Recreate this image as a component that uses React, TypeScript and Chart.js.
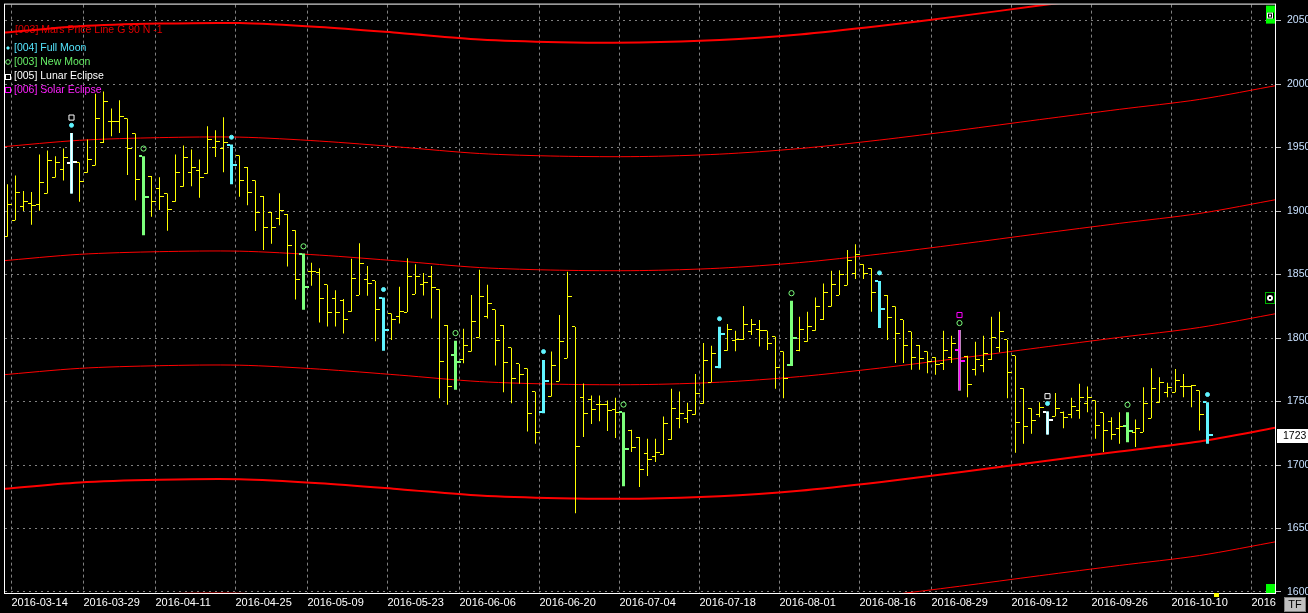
import { useEffect, useRef } from 'react';
import { Chart, registerables } from 'chart.js';

Chart.register(...registerables);

// ---------------- data ----------------
const X_TICK_VALUES = [0.5, 9.5, 18.5, 28.5, 37.5, 47.5, 56.5, 66.5, 76.5, 86.5, 96.5, 106.5, 115.5, 125.5, 135.5, 145.5, 155.5];
const X_TICK_LABELS = ['2016-03-14', '2016-03-29', '2016-04-11', '2016-04-25', '2016-05-09', '2016-05-23', '2016-06-06', '2016-06-20', '2016-07-04', '2016-07-18', '2016-08-01', '2016-08-16', '2016-08-29', '2016-09-12', '2016-09-26', '2016-10-10', '2016'];

const OPEN = [
  1879.8, 1892.7, 1903.4, 1906.0, 1905.3, 1913.9, 1926.5, 1932.7, 1937.9, 1938.2,
  1930.1, 1935.9, 1953.6, 1970.7, 1970.7, 1972.8, 1961.0, 1943.2, 1927.5, 1917.5,
  1913.9, 1907.3, 1919.1, 1930.6, 1932.0, 1929.3, 1950.3, 1948.9, 1951.8, 1943.7,
  1934.6, 1924.1, 1911.8, 1899.2, 1894.0, 1897.6, 1884.8, 1866.5, 1852.6, 1851.3,
  1841.9, 1830.9, 1829.3, 1820.7, 1833.8, 1846.4, 1845.0, 1831.9, 1819.3, 1816.8,
  1820.4, 1834.6, 1841.9, 1848.4, 1838.5, 1810.2, 1786.7, 1783.2, 1789.3, 1800.5,
  1816.8, 1822.2, 1810.2, 1792.4, 1779.6, 1775.9, 1757.6, 1741.6, 1753.9, 1765.9,
  1784.0, 1808.7, 1753.4, 1751.3, 1747.6, 1747.6, 1743.5, 1741.6, 1727.2, 1722.0,
  1708.9, 1706.8, 1708.1, 1719.9, 1736.4, 1736.4, 1739.6, 1748.2, 1765.2, 1776.9,
  1790.0, 1797.9, 1798.5, 1805.0, 1807.1, 1805.8, 1801.0, 1789.3, 1778.8, 1790.0,
  1797.1, 1805.8, 1814.2, 1824.8, 1833.8, 1841.6, 1851.1, 1858.1, 1855.0, 1845.0,
  1833.8, 1824.8, 1814.2, 1805.0, 1794.5, 1789.3, 1784.8, 1780.1, 1784.3, 1790.8,
  1785.3, 1774.9, 1778.3, 1782.7, 1792.2, 1798.5, 1786.1, 1760.4, 1744.7, 1739.6,
  1742.1, 1738.4, 1741.1, 1739.6, 1742.9, 1748.2, 1750.8, 1741.1, 1734.3, 1729.0,
  1730.4, 1725.9, 1725.9, 1736.9, 1749.0, 1756.8, 1757.3, 1761.8, 1761.8, 1758.6,
  1749.4,
];
const HIGH = [
  1921.0, 1928.0, 1915.7, 1914.9, 1944.5, 1947.7, 1943.2, 1949.2, 1961.5, 1938.2,
  1956.3, 1992.4, 1994.2, 1980.7, 1987.2, 1972.8, 1961.0, 1943.2, 1927.5, 1926.7,
  1913.9, 1944.5, 1951.6, 1948.5, 1940.6, 1966.8, 1963.6, 1973.8, 1952.4, 1943.7,
  1934.6, 1924.1, 1911.8, 1899.2, 1914.1, 1897.6, 1884.8, 1866.5, 1859.2, 1855.0,
  1841.9, 1837.7, 1830.7, 1862.5, 1874.6, 1856.8, 1845.0, 1831.9, 1819.3, 1840.3,
  1862.9, 1858.1, 1851.3, 1856.8, 1838.5, 1810.2, 1797.9, 1807.3, 1833.8, 1853.7,
  1841.9, 1822.2, 1810.2, 1792.4, 1779.6, 1775.9, 1757.6, 1782.7, 1789.3, 1818.1,
  1852.1, 1808.7, 1764.1, 1754.7, 1754.7, 1750.8, 1752.9, 1741.6, 1727.8, 1722.0,
  1720.7, 1720.7, 1738.2, 1760.0, 1757.8, 1749.0, 1771.7, 1796.1, 1794.0, 1808.9,
  1811.0, 1805.8, 1825.2, 1814.9, 1814.2, 1805.8, 1801.0, 1789.3, 1829.3, 1816.8,
  1820.7, 1831.9, 1842.9, 1852.9, 1853.4, 1869.4, 1873.8, 1858.1, 1855.0, 1845.0,
  1833.8, 1824.8, 1814.2, 1805.0, 1794.5, 1789.3, 1784.8, 1805.8, 1801.8, 1806.3,
  1786.1, 1797.1, 1801.8, 1816.8, 1820.7, 1798.5, 1786.1, 1760.4, 1744.7, 1749.4,
  1742.1, 1756.8, 1742.1, 1752.9, 1763.9, 1761.8, 1750.8, 1741.1, 1737.7, 1741.6,
  1741.6, 1735.9, 1761.2, 1776.1, 1769.1, 1764.7, 1775.7, 1771.7, 1763.1, 1758.6,
  1749.4,
];
const LOW = [
  1879.8, 1892.7, 1900.0, 1889.2, 1900.2, 1913.9, 1926.5, 1924.1, 1913.9, 1907.3,
  1930.1, 1935.9, 1953.6, 1958.9, 1961.5, 1928.3, 1908.4, 1880.9, 1895.5, 1900.8,
  1884.5, 1907.3, 1919.1, 1919.6, 1910.4, 1929.3, 1942.6, 1930.6, 1921.0, 1911.2,
  1904.5, 1884.3, 1869.4, 1874.3, 1888.8, 1856.3, 1830.3, 1822.2, 1841.1, 1812.3,
  1809.1, 1809.1, 1803.6, 1820.7, 1833.8, 1833.2, 1797.4, 1790.0, 1798.5, 1811.5,
  1820.4, 1834.6, 1833.5, 1815.4, 1752.6, 1747.4, 1759.2, 1780.1, 1789.3, 1800.5,
  1815.4, 1778.3, 1757.3, 1748.7, 1763.9, 1726.4, 1716.8, 1740.8, 1753.9, 1765.9,
  1784.0, 1662.0, 1722.0, 1732.2, 1734.5, 1726.7, 1721.2, 1683.2, 1710.2, 1682.7,
  1691.3, 1702.3, 1708.1, 1719.9, 1729.0, 1733.0, 1739.6, 1748.2, 1765.2, 1776.1,
  1790.0, 1789.5, 1798.5, 1802.4, 1793.4, 1790.6, 1760.0, 1752.6, 1778.0, 1789.5,
  1797.1, 1805.8, 1814.2, 1824.8, 1833.8, 1841.6, 1846.4, 1846.4, 1820.7, 1807.9,
  1798.5, 1780.4, 1780.4, 1775.1, 1775.1, 1772.2, 1771.0, 1774.9, 1780.4, 1758.6,
  1753.4, 1770.4, 1773.0, 1782.7, 1788.7, 1752.6, 1709.7, 1716.8, 1724.6, 1737.7,
  1724.1, 1738.4, 1729.0, 1736.9, 1736.4, 1741.6, 1720.7, 1710.2, 1719.9, 1716.8,
  1718.0, 1714.1, 1725.9, 1736.9, 1749.0, 1753.4, 1757.3, 1753.4, 1745.5, 1727.2,
  1716.8,
];
const CLOSE = [
  1905.3, 1914.4, 1907.6, 1904.7, 1922.5, 1939.8, 1938.2, 1942.4, 1939.0, 1923.3,
  1940.8, 1972.8, 1986.6, 1970.7, 1974.4, 1949.2, 1924.6, 1910.8, 1907.3, 1911.8,
  1901.3, 1930.4, 1941.9, 1934.6, 1926.7, 1956.3, 1954.4, 1953.6, 1935.9, 1924.1,
  1914.9, 1899.0, 1887.2, 1887.2, 1900.5, 1873.1, 1846.4, 1840.1, 1852.6, 1831.4,
  1820.4, 1819.9, 1814.9, 1847.1, 1858.9, 1843.2, 1822.2, 1806.5, 1814.2, 1821.2,
  1848.2, 1848.2, 1843.7, 1839.8, 1781.2, 1761.8, 1781.2, 1794.5, 1812.8, 1833.0,
  1827.5, 1797.9, 1780.9, 1767.8, 1771.0, 1740.3, 1725.4, 1766.3, 1778.0, 1796.9,
  1832.7, 1714.9, 1740.3, 1743.5, 1747.6, 1742.9, 1741.6, 1712.8, 1714.1, 1696.6,
  1704.4, 1710.2, 1732.5, 1744.3, 1740.3, 1742.9, 1756.0, 1782.2, 1787.5, 1803.2,
  1807.1, 1798.5, 1811.0, 1811.0, 1805.8, 1795.8, 1776.9, 1767.8, 1800.0, 1806.5,
  1809.1, 1824.6, 1835.6, 1842.4, 1850.3, 1860.7, 1865.4, 1850.8, 1835.8, 1822.5,
  1816.2, 1803.2, 1794.5, 1784.8, 1783.5, 1781.6, 1778.8, 1790.0, 1795.3, 1781.6,
  1763.1, 1783.4, 1787.5, 1800.8, 1805.0, 1773.0, 1733.7, 1730.4, 1735.1, 1745.5,
  1735.6, 1744.3, 1737.2, 1746.3, 1753.4, 1753.4, 1731.1, 1727.2, 1724.1, 1730.4,
  1726.4, 1728.6, 1748.2, 1760.4, 1764.7, 1760.8, 1766.5, 1761.8, 1762.6, 1739.8,
  1724.0,
];

const FULL_MOON_BARS = [8, 28, 47, 67, 89, 109, 130, 150];
const FULL_MOON_MARK = [1967.5, 1958.1, 1838.2, 1789.3, 1815.2, 1851.3, 1748.4, 1755.5];
const NEW_MOON_BARS = [17, 37, 56, 77, 98, 119, 140];
const NEW_MOON_MARK = [1949.2, 1872.2, 1803.9, 1747.6, 1835.3, 1811.8, 1747.4];
const LUNAR_ECLIPSE_BARS = [8, 130];
const LUNAR_ECLIPSE_MARK = [1973.6, 1754.2];
const SOLAR_ECLIPSE_BARS = [119];
const SOLAR_ECLIPSE_MARK = [1818.1];

const CURVE_X = [-1, 9, 19, 29, 39, 49, 59, 69, 79, 89, 99, 109, 119, 129, 139, 149, 159];
const MARS_0 = [2040.2, 2045.5, 2047.6, 2048.0, 2044.9, 2040.2, 2035.1, 2033.0, 2032.7, 2034.6, 2039.0, 2045.7, 2053.5, 2061.8, 2069.9, 2077.7, 2089.1];
const MARS_1 = [1950.4, 1955.7, 1957.8, 1958.2, 1955.1, 1950.4, 1945.3, 1943.2, 1942.9, 1944.8, 1949.2, 1955.9, 1963.7, 1972.0, 1980.1, 1987.9, 1999.3];
const MARS_2 = [1860.6, 1865.9, 1868.0, 1868.4, 1865.3, 1860.6, 1855.5, 1853.4, 1853.1, 1855.0, 1859.4, 1866.1, 1873.9, 1882.2, 1890.3, 1898.1, 1909.5];
const MARS_3 = [1770.8, 1776.1, 1778.2, 1778.6, 1775.5, 1770.8, 1765.7, 1763.6, 1763.3, 1765.2, 1769.6, 1776.3, 1784.1, 1792.4, 1800.5, 1808.3, 1819.7];
const MARS_4 = [1681.0, 1686.3, 1688.4, 1688.8, 1685.7, 1681.0, 1675.9, 1673.8, 1673.5, 1675.4, 1679.8, 1686.5, 1694.3, 1702.6, 1710.7, 1718.5, 1729.9];
const MARS_5 = [1591.2, 1596.5, 1598.6, 1599.0, 1595.9, 1591.2, 1586.1, 1584.0, 1583.7, 1585.6, 1590.0, 1596.7, 1604.5, 1612.8, 1620.9, 1628.7, 1640.1];

const LAST_PRICE = 1723;
const LAST_PRICE_LABEL = '1723';
const CURRENT_SLOT = 151;

const LEGEND_TEXT = ['[003] Mars Price Line G 90 N -1', '[004] Full Moon', '[003] New Moon', '[005] Lunar Eclipse', '[006] Solar Eclipse'];

// ---------------- styles ----------------
const FONT = "'Liberation Sans', Arial, sans-serif";
const YELLOW = '#ffff00';
const CYAN = '#60f4ff';
const GREEN = '#7cff7c';
const WHITE = '#ffffff';
const MAGENTA = '#ff00ff';
const RED = '#ff0000';

const X_MIN = -0.3125;
const X_MAX = 158.4375;
const Y_MIN = 1599.2;
const Y_MAX = 2062.57;

// Small sprites for open (left) / close (right) ticks. The sprite is centred on the bar.
function tickSprite(color: string, side: 'open' | 'close', thick: boolean) {
  const c = document.createElement('canvas');
  const h = thick ? 2 : 1;
  const w = thick ? (side === 'open' ? 9 : 11) : side === 'open' ? 7 : 9;
  c.width = w;
  c.height = h;
  const g = c.getContext('2d') as CanvasRenderingContext2D;
  g.fillStyle = color;
  if (side === 'open') g.fillRect(0, 0, 3, h);
  else g.fillRect(w - 4, 0, 4, h);
  return c;
}

function barSet(indices: number[], color: string, thickness: number, order: number) {
  return {
    type: 'bar' as const,
    data: indices.map((i) => ({ x: i, y: [LOW[i], HIGH[i]] })),
    backgroundColor: color,
    borderWidth: 0,
    barThickness: thickness,
    grouped: false,
    inflateAmount: 0,
    order,
  };
}

function tickSet(indices: number[], values: number[], sprite: HTMLCanvasElement, order: number) {
  return {
    type: 'scatter' as const,
    data: indices.map((i) => ({ x: i, y: values[i] })),
    pointStyle: sprite,
    pointRadius: 3,
    pointHoverRadius: 3,
    pointBorderWidth: 0,
    showLine: false,
    clip: false,
    order,
  };
}

function markerSet(indices: number[], values: number[], style: string, radius: number, fill: string, stroke: string, order: number) {
  return {
    type: 'scatter' as const,
    data: indices.map((i, k) => ({ x: i, y: values[k] })),
    pointStyle: style,
    pointRadius: radius,
    pointHoverRadius: radius,
    pointBorderWidth: 1,
    pointBorderColor: stroke,
    pointBackgroundColor: fill,
    showLine: false,
    order,
  };
}

function curveSet(values: number[], width: number) {
  return {
    type: 'line' as const,
    data: CURVE_X.map((x, k) => ({ x, y: values[k] })),
    borderColor: RED,
    borderWidth: width,
    pointRadius: 0,
    tension: 0.3,
    clip: 0,
    order: 20,
  };
}

const overlayPlugin = {
  id: 'overlay',
  beforeDraw(chart: any) {
    const { ctx, width, height } = chart;
    ctx.save();
    ctx.fillStyle = '#000';
    ctx.fillRect(0, 0, width, height);
    ctx.restore();
  },
  beforeDatasetsDraw(chart: any) {
    const { ctx } = chart;
    ctx.save();
    ctx.font = `10.5px ${FONT}`;
    ctx.textBaseline = 'middle';
    ctx.textAlign = 'left';
    const rows = [
      { y: 30, color: '#e00000' },
      { y: 48, color: '#55e6ff' },
      { y: 62, color: '#66ee66' },
      { y: 76.5, color: '#ffffff' },
      { y: 90, color: '#ff20ff' },
    ];
    rows.forEach((r, k) => {
      ctx.fillStyle = r.color;
      ctx.fillText(LEGEND_TEXT[k], k === 0 ? 15 : 14, r.y);
    });
    ctx.fillStyle = CYAN;
    ctx.beginPath();
    ctx.moveTo(8, 46); ctx.lineTo(10, 48); ctx.lineTo(8, 50); ctx.lineTo(6, 48); ctx.closePath();
    ctx.fill();
    ctx.strokeStyle = GREEN;
    ctx.lineWidth = 1;
    ctx.beginPath();
    ctx.arc(8, 62, 2.3, 0, Math.PI * 2);
    ctx.stroke();
    ctx.strokeStyle = WHITE;
    ctx.strokeRect(5.5, 74.5, 5, 5);
    ctx.strokeStyle = MAGENTA;
    ctx.strokeRect(5.5, 87.5, 5, 5);
    ctx.restore();
    // crisp (nearest-neighbour) sprites for the open / close ticks
    ctx.imageSmoothingEnabled = false;
  },
  afterDatasetsDraw(chart: any) {
    chart.ctx.imageSmoothingEnabled = true;
  },
  afterDraw(chart: any) {
    const { ctx, chartArea: ca, scales } = chart;
    ctx.save();
    ctx.strokeStyle = '#ffffff';
    ctx.lineWidth = 1;
    ctx.strokeRect(ca.left - 0.5, ca.top - 0.5, ca.right - ca.left + 1, ca.bottom - ca.top + 1);

    const py = Math.round(scales.y.getPixelForValue(LAST_PRICE));
    ctx.fillStyle = '#ffffff';
    ctx.fillRect(ca.right + 2, py - 7, 40, 14);
    ctx.fillStyle = '#000000';
    ctx.font = `10.5px ${FONT}`;
    ctx.textBaseline = 'middle';
    ctx.textAlign = 'left';
    ctx.fillText(LAST_PRICE_LABEL, ca.right + 8, py + 0.5);

    ctx.fillStyle = '#00ff00';
    ctx.fillRect(ca.right - 9, ca.top + 1, 9, 18);
    ctx.fillRect(ca.right - 9, ca.bottom - 9, 9, 9);
    ctx.fillStyle = '#000';
    ctx.fillRect(ca.right - 8, ca.top + 8, 7, 6);
    ctx.strokeStyle = '#ffffff';
    ctx.strokeRect(ca.right - 7.5, ca.top + 8.5, 5, 5);
    ctx.fillStyle = '#ffffff';
    ctx.fillRect(ca.right - 6, ca.top + 10, 2, 2);

    ctx.fillStyle = '#000';
    ctx.fillRect(ca.right - 10, 292, 10, 12);
    ctx.strokeStyle = '#00b000';
    ctx.strokeRect(ca.right - 9.5, 292.5, 9, 11);
    ctx.fillStyle = '#ffffff';
    ctx.beginPath();
    ctx.arc(ca.right - 5, 298, 3, 0, Math.PI * 2);
    ctx.fill();
    ctx.fillStyle = '#000';
    ctx.fillRect(ca.right - 6, 297, 2, 2);

    const cx = Math.round(scales.x.getPixelForValue(CURRENT_SLOT));
    ctx.fillStyle = '#ffff00';
    ctx.fillRect(cx - 2, ca.bottom, 5, 4);

    ctx.fillStyle = '#c0c0c0';
    ctx.fillRect(1284, 597, 22, 15);
    ctx.strokeStyle = '#808080';
    ctx.strokeRect(1284.5, 597.5, 21, 14);
    ctx.fillStyle = '#000';
    ctx.font = `11px ${FONT}`;
    ctx.textAlign = 'center';
    ctx.fillText('TF', 1295, 605);
    ctx.restore();
  },
};

export default function App() {
  const ref = useRef<HTMLCanvasElement>(null);

  useEffect(() => {
    document.body.style.margin = '0';
    document.body.style.background = '#000';
    Chart.defaults.font.family = FONT;
    Chart.defaults.font.size = 11;

    const all = OPEN.map((_, i) => i);
    const special = new Set([...FULL_MOON_BARS, ...NEW_MOON_BARS]);
    const normal = all.filter((i) => !special.has(i));

    const datasets: any[] = [
      curveSet(MARS_0, 2),
      curveSet(MARS_1, 1),
      curveSet(MARS_2, 1),
      curveSet(MARS_3, 1),
      curveSet(MARS_4, 2),
      curveSet(MARS_5, 1),
      barSet(normal, YELLOW, 1, 12),
      tickSet(normal, OPEN, tickSprite(YELLOW, 'open', false), 11),
      tickSet(normal, CLOSE, tickSprite(YELLOW, 'close', false), 11),
      barSet(FULL_MOON_BARS, CYAN, 3, 10),
      tickSet(FULL_MOON_BARS, OPEN, tickSprite(CYAN, 'open', true), 9),
      tickSet(FULL_MOON_BARS, CLOSE, tickSprite(CYAN, 'close', true), 9),
      barSet(NEW_MOON_BARS, GREEN, 3, 10),
      tickSet(NEW_MOON_BARS, OPEN, tickSprite(GREEN, 'open', true), 9),
      tickSet(NEW_MOON_BARS, CLOSE, tickSprite(GREEN, 'close', true), 9),
      barSet(LUNAR_ECLIPSE_BARS, WHITE, 2, 8),
      tickSet(LUNAR_ECLIPSE_BARS, OPEN, tickSprite(WHITE, 'open', true), 7),
      tickSet(LUNAR_ECLIPSE_BARS, CLOSE, tickSprite(WHITE, 'close', true), 7),
      barSet(SOLAR_ECLIPSE_BARS, MAGENTA, 2, 8),
      tickSet(SOLAR_ECLIPSE_BARS, OPEN, tickSprite(MAGENTA, 'open', true), 7),
      tickSet(SOLAR_ECLIPSE_BARS, CLOSE, tickSprite(MAGENTA, 'close', true), 7),
      markerSet(FULL_MOON_BARS, FULL_MOON_MARK, 'circle', 2, CYAN, CYAN, 1),
      markerSet(NEW_MOON_BARS, NEW_MOON_MARK, 'circle', 2.6, 'rgba(0,0,0,0)', GREEN, 1),
      markerSet(LUNAR_ECLIPSE_BARS, LUNAR_ECLIPSE_MARK, 'rect', 3.6, 'rgba(0,0,0,0)', WHITE, 1),
      markerSet(SOLAR_ECLIPSE_BARS, SOLAR_ECLIPSE_MARK, 'rect', 3.6, 'rgba(0,0,0,0)', MAGENTA, 1),
    ];

    const chart = new Chart(ref.current as HTMLCanvasElement, {
      type: 'bar',
      data: { datasets },
      plugins: [overlayPlugin],
      options: {
        responsive: false,
        maintainAspectRatio: false,
        devicePixelRatio: 1,
        animation: false,
        events: [],
        layout: { padding: { left: 5, top: 3, right: 0, bottom: 0 } },
        plugins: { legend: { display: false }, tooltip: { enabled: false } },
        scales: {
          x: {
            type: 'linear',
            position: 'bottom',
            offset: false,
            min: X_MIN,
            max: X_MAX,
            afterBuildTicks: (s: any) => {
              s.ticks = X_TICK_VALUES.map((v) => ({ value: v }));
            },
            afterFit: (s: any) => {
              s.height = 20;
              s.paddingLeft = 0;
              s.paddingRight = 0;
            },
            ticks: {
              callback: (_v: any, i: number) => X_TICK_LABELS[i] ?? '',
              color: '#ffffff',
              font: { size: 11, family: FONT },
              align: 'start',
              autoSkip: false,
              maxRotation: 0,
              minRotation: 0,
              padding: 3,
            },
            grid: { color: '#808080', lineWidth: 1, drawTicks: false, offset: false },
            border: { display: false, dash: [3, 3] },
          },
          y: {
            type: 'linear',
            position: 'right',
            min: Y_MIN,
            max: Y_MAX,
            afterFit: (s: any) => {
              s.width = 33;
              s.paddingTop = 0;
              s.paddingBottom = 0;
            },
            ticks: {
              stepSize: 50,
              includeBounds: false,
              color: '#c8e0ff',
              font: { size: 10.5, family: FONT },
              padding: 6,
              callback: (v: any) => String(v),
            },
            grid: { color: '#808080', lineWidth: 1, drawTicks: true, tickLength: 6, tickColor: '#c0c0c0', tickBorderDash: [] },
            border: { display: false, dash: [2, 4] },
          },
        },
      } as any,
    });
    return () => chart.destroy();
  }, []);

  return (
    <div style={{ position: 'absolute', left: 0, top: 0, width: 1308, height: 613, background: '#000' }}>
      <canvas ref={ref} width={1308} height={613} style={{ display: 'block', width: 1308, height: 613 }} />
    </div>
  );
}
